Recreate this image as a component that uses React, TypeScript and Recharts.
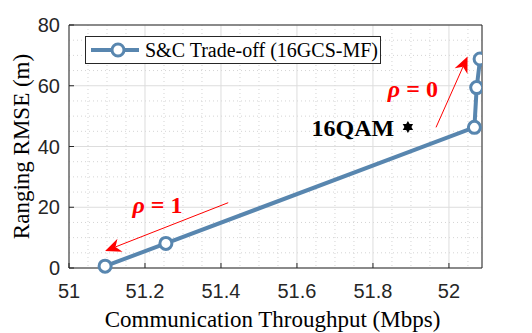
import React from "react";
import {
  CartesianGrid,
  ComposedChart,
  Legend,
  Line,
  ReferenceDot,
  ReferenceLine,
  XAxis,
  YAxis,
} from "recharts";

// S&C trade-off curve (16GCS-MF)
const THROUGHPUT = [51.095, 51.255, 52.067, 52.073, 52.082];
const RMSE = [0.6, 8.1, 46.3, 59.4, 68.8];

// 16QAM reference point
const QAM_X = 51.892;
const QAM_Y = 46.4;

const X_MIN = 51;
const X_MAX = 52.087;
const X_TICKS = [51, 51.2, 51.4, 51.6, 51.8, 52];
const Y_TICKS = [0, 20, 40, 60, 80];
const X_MINOR = [
  51.05, 51.1, 51.15, 51.25, 51.3, 51.35, 51.45, 51.5, 51.55, 51.65, 51.7,
  51.75, 51.85, 51.9, 51.95, 52.05,
];
const Y_MINOR = [5, 10, 15, 25, 30, 35, 45, 50, 55, 65, 70, 75];

const data = THROUGHPUT.map((thr, i) => ({ thr, rmse: RMSE[i] }));

const LINE = "#5886af";
const AXIS = "#262626";
const RED = "#ff0000";
const SERIF = "'Liberation Serif', 'Times New Roman', serif";
const SANS = "'Liberation Sans', Arial, sans-serif";

function xPix(v: number, offset: any) {
  return offset.left + ((v - X_MIN) / (X_MAX - X_MIN)) * offset.width;
}
function yPix(v: number, offset: any) {
  return offset.top + offset.height - (v / 80) * offset.height;
}

function BottomTick({ x, y, payload }: any) {
  return (
    <g>
      <line x1={x} x2={x} y1={y} y2={y - 5} stroke={AXIS} />
      <text x={x} y={y + 30} textAnchor="middle" fontFamily={SANS} fontSize={20} fill={AXIS}>
        {payload.value}
      </text>
    </g>
  );
}

function LeftTick({ x, y, payload }: any) {
  return (
    <g>
      <line x1={x} x2={x + 5} y1={y} y2={y} stroke={AXIS} />
      <text x={x - 9} y={y + 7} textAnchor="end" fontFamily={SANS} fontSize={20} fill={AXIS}>
        {payload.value}
      </text>
    </g>
  );
}

function TopTick({ x, y }: any) {
  return <line x1={x} x2={x} y1={y} y2={y + 5} stroke={AXIS} />;
}

function RightTick({ x, y }: any) {
  return <line x1={x} x2={x - 5} y1={y} y2={y} stroke={AXIS} />;
}

function Arrow(props: any) {
  const { x1, y1, x2, y2 } = props;
  if ([x1, y1, x2, y2].some((v) => typeof v !== "number")) return null;
  const dx = x2 - x1;
  const dy = y2 - y1;
  const len = Math.hypot(dx, dy);
  const ux = dx / len;
  const uy = dy / len;
  const hl = 16;
  const hw = 7;
  const bx = x2 - ux * hl;
  const by = y2 - uy * hl;
  const nx = x2 - ux * hl * 0.7;
  const ny = y2 - uy * hl * 0.7;
  const pts = [
    [x2, y2],
    [bx - uy * hw, by + ux * hw],
    [nx, ny],
    [bx + uy * hw, by - ux * hw],
  ]
    .map((p) => p.join(","))
    .join(" ");
  return (
    <g>
      <line x1={x1} y1={y1} x2={nx} y2={ny} stroke={RED} strokeWidth={1} />
      <polygon points={pts} fill={RED} />
    </g>
  );
}

function rhoLabel(value: string) {
  return ({ cx, cy }: any) => (
    <text x={cx} y={cy} textAnchor="middle" fontFamily={SERIF} fontSize={24} fontWeight="bold" fill={RED}>
      <tspan fontStyle="italic">ρ</tspan>
      <tspan> = {value}</tspan>
    </text>
  );
}

function QamLabel({ cx, cy }: any) {
  return (
    <text x={cx} y={cy} textAnchor="middle" fontFamily={SERIF} fontSize={24} fontWeight="bold" fill="#000">
      16QAM
    </text>
  );
}

function Hexagram({ cx, cy }: any) {
  const r = 6;
  const tri = (rot: number) =>
    [0, 1, 2]
      .map((k) => {
        const a = rot + (k * 2 * Math.PI) / 3;
        return `${cx + r * Math.sin(a)},${cy - r * Math.cos(a)}`;
      })
      .join(" ");
  return (
    <g fill="#000">
      <polygon points={tri(0)} />
      <polygon points={tri(Math.PI)} />
    </g>
  );
}

function LegendBox() {
  return (
    <div
      style={{
        width: 294,
        height: 26,
        border: `1px solid ${AXIS}`,
        background: "#fff",
        position: "relative",
      }}
    >
      <svg width={60} height={26} style={{ position: "absolute", left: 0, top: 0 }}>
        <line x1={5} x2={53} y1={13} y2={13} stroke={LINE} strokeWidth={4} />
        <circle cx={32} cy={13} r={6} fill="#fff" stroke={LINE} strokeWidth={3} />
      </svg>
      <span
        style={{
          position: "absolute",
          left: 59,
          top: 0,
          lineHeight: "26px",
          fontFamily: SERIF,
          fontSize: 20,
          color: "#000",
          whiteSpace: "nowrap",
        }}
      >
        S&amp;C Trade-off (16GCS-MF)
      </span>
    </div>
  );
}

export default function App() {
  return (
    <div style={{ position: "absolute", left: 0, top: 0, width: 532, height: 333, background: "#fff" }}>
      <ComposedChart width={532} height={333} data={data} margin={{ top: 0, right: 0, left: 0, bottom: 0 }}>
        <CartesianGrid
          xAxisId="b"
          yAxisId="l"
          stroke="#d4d4d4"
          strokeDasharray="1 3"
          verticalCoordinatesGenerator={({ offset }: any) => X_MINOR.map((v) => xPix(v, offset))}
          horizontalCoordinatesGenerator={({ offset }: any) => Y_MINOR.map((v) => yPix(v, offset))}
        />
        <CartesianGrid xAxisId="b" yAxisId="l" stroke="#dddddd" />
        <XAxis
          xAxisId="b"
          dataKey="thr"
          type="number"
          domain={[X_MIN, X_MAX]}
          ticks={X_TICKS}
          interval={0}
          allowDataOverflow
          height={65}
          tickSize={0}
          tickMargin={0}
          tick={<BottomTick />}
          axisLine={{ stroke: AXIS }}
          label={{
            content: ({ viewBox }: any) => (
              <text
                x={viewBox.x + viewBox.width / 2 - 3}
                y={viewBox.y + 59}
                textAnchor="middle"
                fontFamily={SERIF}
                fontSize={23}
                fill="#000"
              >
                Communication Throughput (Mbps)
              </text>
            ),
          }}
        />
        <XAxis
          xAxisId="t"
          orientation="top"
          type="number"
          domain={[X_MIN, X_MAX]}
          ticks={X_TICKS}
          interval={0}
          allowDataOverflow
          height={25}
          tickSize={0}
          tickMargin={0}
          tick={<TopTick />}
          axisLine={{ stroke: AXIS }}
        />
        <YAxis
          yAxisId="l"
          type="number"
          domain={[0, 80]}
          ticks={Y_TICKS}
          interval={0}
          width={69}
          tickSize={0}
          tickMargin={0}
          tick={<LeftTick />}
          axisLine={{ stroke: AXIS }}
          label={{
            content: ({ viewBox }: any) => {
              const x = viewBox.x + 28.5;
              const y = viewBox.y + viewBox.height / 2;
              return (
                <text
                  x={x}
                  y={y}
                  transform={`rotate(-90, ${x}, ${y})`}
                  textAnchor="middle"
                  fontFamily={SERIF}
                  fontSize={23}
                  fill="#000"
                >
                  Ranging RMSE (m)
                </text>
              );
            },
          }}
        />
        <YAxis
          yAxisId="r"
          orientation="right"
          type="number"
          domain={[0, 80]}
          ticks={Y_TICKS}
          interval={0}
          width={50}
          tickSize={0}
          tickMargin={0}
          tick={<RightTick />}
          axisLine={{ stroke: AXIS }}
        />
        <Legend
          layout="horizontal"
          verticalAlign="middle"
          align="center"
          wrapperStyle={{ top: 36, left: 85, width: "auto", height: "auto" }}
          content={() => <LegendBox />}
        />
        <ReferenceLine
          xAxisId="b"
          yAxisId="l"
          segment={[
            { x: 51.966, y: 46.3 },
            { x: 52.049, y: 69.6 },
          ]}
          shape={<Arrow />}
        />
        <ReferenceLine
          xAxisId="b"
          yAxisId="l"
          segment={[
            { x: 51.419, y: 21.5 },
            { x: 51.095, y: 5.6 },
          ]}
          shape={<Arrow />}
        />
        <Line
          xAxisId="b"
          yAxisId="l"
          dataKey="rmse"
          stroke={LINE}
          strokeWidth={4}
          dot={{ r: 6, stroke: LINE, strokeWidth: 3, fill: "#fff" }}
          activeDot={false}
          isAnimationActive={false}
        />
        <ReferenceDot xAxisId="b" yAxisId="l" x={QAM_X} y={QAM_Y} shape={<Hexagram />} />
        <ReferenceDot xAxisId="b" yAxisId="l" x={51.747} y={43.4} shape={<QamLabel />} />
        <ReferenceDot xAxisId="b" yAxisId="l" x={51.905} y={56.3} shape={rhoLabel("0")} />
        <ReferenceDot xAxisId="b" yAxisId="l" x={51.233} y={18.0} shape={rhoLabel("1")} />
      </ComposedChart>
    </div>
  );
}
